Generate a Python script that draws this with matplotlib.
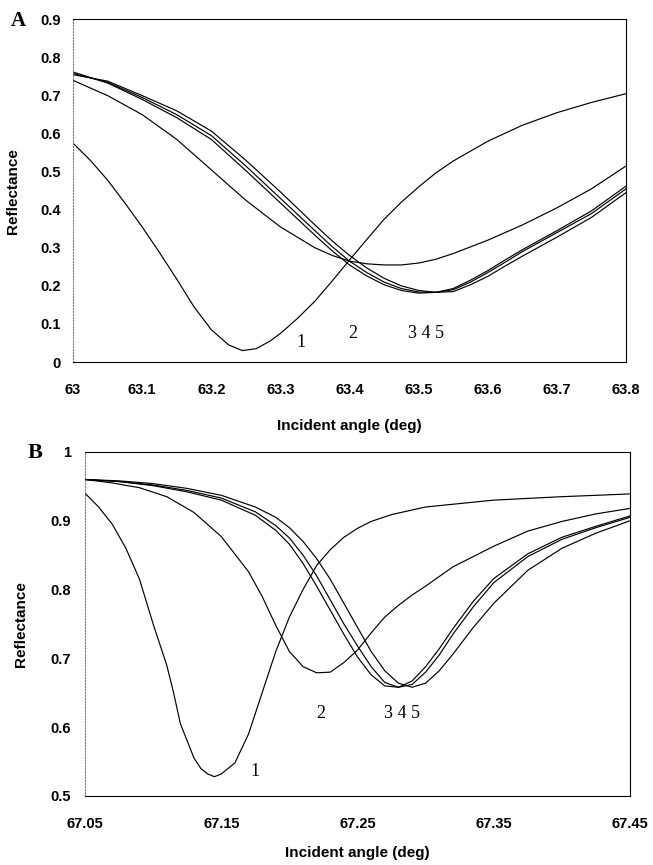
import matplotlib
matplotlib.use("Agg")
import matplotlib.pyplot as plt

# ---- Panel A data (angle in deg, reflectance) ----
a1_x = [63.000, 63.025, 63.050, 63.075, 63.100, 63.125, 63.150, 63.175, 63.200, 63.225,
        63.245, 63.265, 63.285, 63.300, 63.325, 63.350, 63.375, 63.400, 63.425, 63.450,
        63.475, 63.500, 63.525, 63.550, 63.600, 63.650, 63.700, 63.750, 63.800]
a1_y = [0.575, 0.53, 0.478, 0.418, 0.355, 0.288, 0.218, 0.145, 0.085, 0.045,
        0.03, 0.035, 0.055, 0.075, 0.115, 0.16, 0.213, 0.268, 0.322, 0.375,
        0.42, 0.46, 0.497, 0.528, 0.58, 0.622, 0.655, 0.682, 0.705]

a2_x = [63.00, 63.05, 63.10, 63.15, 63.20, 63.25, 63.30, 63.35, 63.375, 63.40, 63.425,
        63.45, 63.475, 63.50, 63.525, 63.55, 63.60, 63.65, 63.70, 63.75, 63.80]
a2_y = [0.74, 0.70, 0.65, 0.585, 0.505, 0.425, 0.355, 0.30, 0.28, 0.265, 0.258,
        0.255, 0.255, 0.26, 0.27, 0.285, 0.32, 0.36, 0.405, 0.455, 0.515]

a_x = [63.00, 63.05, 63.10, 63.15, 63.20, 63.25, 63.30, 63.35, 63.375, 63.40, 63.425,
       63.45, 63.475, 63.50, 63.525, 63.55, 63.575, 63.60, 63.625, 63.65, 63.70,
       63.75, 63.80]
a3_y = [0.762, 0.733, 0.69, 0.642, 0.585, 0.503, 0.418, 0.333, 0.292, 0.255, 0.226,
        0.203, 0.188, 0.181, 0.183, 0.193, 0.215, 0.24, 0.268, 0.295, 0.345,
        0.397, 0.462]
a4_y = [0.758, 0.735, 0.695, 0.65, 0.595, 0.515, 0.43, 0.345, 0.303, 0.265, 0.235,
        0.21, 0.193, 0.184, 0.183, 0.19, 0.21, 0.235, 0.262, 0.29, 0.34,
        0.39, 0.455]
a5_y = [0.755, 0.738, 0.70, 0.66, 0.607, 0.53, 0.447, 0.36, 0.318, 0.28, 0.247,
        0.22, 0.20, 0.188, 0.183, 0.185, 0.203, 0.225, 0.252, 0.278, 0.328,
        0.38, 0.445]

# ---- Panel B data ----
b1_x = [67.05, 67.06, 67.07, 67.08, 67.09, 67.10, 67.11, 67.115, 67.12, 67.13, 67.135,
        67.14, 67.145, 67.15, 67.16, 67.17, 67.18, 67.19, 67.20, 67.21, 67.22, 67.23,
        67.24, 67.25, 67.26, 67.275, 67.30, 67.35, 67.40, 67.45]
b1_y = [0.94, 0.92, 0.895, 0.86, 0.815, 0.75, 0.69, 0.65, 0.605, 0.555, 0.54,
        0.532, 0.528, 0.532, 0.548, 0.59, 0.65, 0.71, 0.76, 0.80, 0.835, 0.858,
        0.876, 0.889, 0.899, 0.909, 0.92, 0.93, 0.935, 0.939]

b2_x = [67.05, 67.07, 67.09, 67.11, 67.13, 67.15, 67.17, 67.18, 67.19, 67.20, 67.21,
        67.22, 67.23, 67.24, 67.25, 67.26, 67.27, 67.28, 67.29, 67.30, 67.32, 67.35,
        67.375, 67.40, 67.425, 67.45]
b2_y = [0.96, 0.955, 0.948, 0.935, 0.912, 0.877, 0.826, 0.79, 0.748, 0.71, 0.688,
        0.679, 0.68, 0.694, 0.712, 0.737, 0.76, 0.777, 0.792, 0.805, 0.833, 0.863,
        0.885, 0.899, 0.91, 0.918]

b_x = [67.05, 67.075, 67.10, 67.125, 67.15, 67.175, 67.19, 67.20, 67.21, 67.22, 67.23,
       67.24, 67.25, 67.26, 67.27, 67.28, 67.29, 67.30, 67.31, 67.32, 67.335, 67.35,
       67.375, 67.40, 67.425, 67.45]
b3_y = [0.96, 0.957, 0.951, 0.942, 0.93, 0.908, 0.886, 0.866, 0.838, 0.805, 0.77,
        0.735, 0.702, 0.676, 0.66, 0.658, 0.667, 0.688, 0.714, 0.743, 0.783, 0.816,
        0.852, 0.876, 0.892, 0.907]
b4_y = [0.96, 0.957, 0.952, 0.944, 0.933, 0.913, 0.893, 0.875, 0.85, 0.82, 0.785,
        0.75, 0.718, 0.688, 0.665, 0.658, 0.662, 0.68, 0.705, 0.735, 0.775, 0.81,
        0.848, 0.873, 0.89, 0.905]
b5_y = [0.96, 0.958, 0.954, 0.947, 0.937, 0.92, 0.905, 0.89, 0.87, 0.845, 0.815,
        0.78, 0.745, 0.71, 0.682, 0.664, 0.658, 0.664, 0.682, 0.706, 0.745, 0.78,
        0.828, 0.86, 0.882, 0.90]

a_xticks = [63, 63.1, 63.2, 63.3, 63.4, 63.5, 63.6, 63.7, 63.8]
a_xlabels = ["63", "63.1", "63.2", "63.3", "63.4", "63.5", "63.6", "63.7", "63.8"]
a_yticks = [0, 0.1, 0.2, 0.3, 0.4, 0.5, 0.6, 0.7, 0.8, 0.9]
a_ylabels = ["0", "0.1", "0.2", "0.3", "0.4", "0.5", "0.6", "0.7", "0.8", "0.9"]
b_xticks = [67.05, 67.15, 67.25, 67.35, 67.45]
b_xlabels = ["67.05", "67.15", "67.25", "67.35", "67.45"]
b_yticks = [0.5, 0.6, 0.7, 0.8, 0.9, 1.0]
b_ylabels = ["0.5", "0.6", "0.7", "0.8", "0.9", "1"]

plt.rcParams['font.family'] = ['Liberation Sans', 'DejaVu Sans']
fig = plt.figure(figsize=(6.53, 8.65), dpi=100)

axA = fig.add_axes([0.1118, 0.5815, 0.8469, 0.396])
axB = fig.add_axes([0.1302, 0.0798, 0.8346, 0.3977])

lw = 0.85
for ys in (a3_y, a4_y, a5_y):
    axA.plot(a_x, ys, color='black', lw=lw)
axA.plot(a2_x, a2_y, color='black', lw=lw)
axA.plot(a1_x, a1_y, color='black', lw=lw)

for ys in (b3_y, b4_y, b5_y):
    axB.plot(b_x, ys, color='black', lw=lw)
axB.plot(b2_x, b2_y, color='black', lw=lw)
axB.plot(b1_x, b1_y, color='black', lw=lw)

def style(ax, xt, xl, yt, yl, xlim, ylim, ypad, xlpad):
    ax.set_xlim(*xlim)
    ax.set_ylim(*ylim)
    ax.set_xticks(xt)
    ax.set_xticklabels(xl)
    ax.set_yticks(yt)
    ax.set_yticklabels(yl)
    ax.tick_params(length=0, labelsize=10.5, pad=ypad)
    ax.tick_params(axis='x', pad=15)
    for lab in ax.get_xticklabels() + ax.get_yticklabels():
        lab.set_fontweight('bold')
    for s in ax.spines.values():
        s.set_linewidth(0.8)
    ax.spines['left'].set_color('#777777')
    ax.spines['left'].set_linestyle(':')
    ax.set_ylabel("Reflectance", fontsize=11, fontweight='bold')
    ax.set_xlabel("Incident angle (deg)", fontsize=11, fontweight='bold', labelpad=xlpad)

style(axA, a_xticks, a_xlabels, a_yticks, a_ylabels, (63, 63.8), (0, 0.9), 9, 16)
style(axB, b_xticks, b_xlabels, b_yticks, b_ylabels, (67.05, 67.45), (0.5, 1.0), 10, 11)
axA.yaxis.set_label_coords(-0.095, 0.5)
axB.yaxis.set_label_coords(-0.105, 0.5)

# curve number labels
serif = ['Liberation Serif', 'DejaVu Serif']
axA.text(63.33, 0.05, "1", family=serif, fontsize=13, ha='center', va='center')
axA.text(63.405, 0.075, "2", family=serif, fontsize=13, ha='center', va='center')
axA.text(63.51, 0.075, "3 4 5", family=serif, fontsize=13, ha='center', va='center')
axB.text(67.175, 0.535, "1", family=serif, fontsize=13, ha='center', va='center')
axB.text(67.223, 0.62, "2", family=serif, fontsize=13, ha='center', va='center')
axB.text(67.283, 0.62, "3 4 5", family=serif, fontsize=13, ha='center', va='center')

# panel letters
fig.text(18 / 653, 1 - 21 / 865, "A", family=serif, fontsize=15, fontweight='bold',
         ha='center', va='center')
fig.text(35 / 653, 1 - 453 / 865, "B", family=serif, fontsize=16, fontweight='bold',
         ha='center', va='center')

fig.savefig("out.png", dpi=100)
